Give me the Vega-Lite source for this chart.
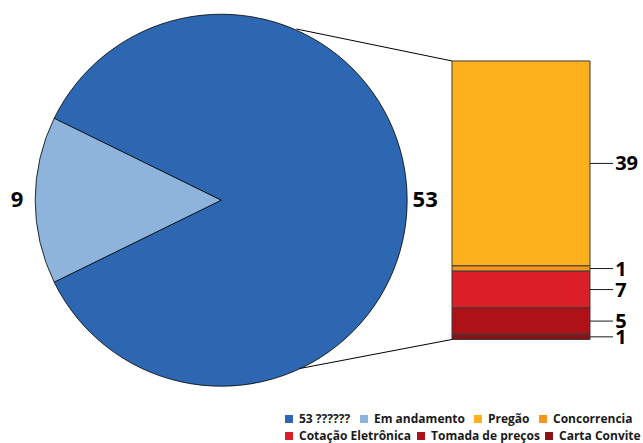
{
  "$schema": "https://vega.github.io/schema/vega-lite/v6.json",
  "width": 643,
  "height": 443,
  "padding": 0,
  "autosize": {"type": "none"},
  "background": "white",
  "config": {
    "view": {"stroke": null},
    "font": "Open Sans",
    "legend": {
      "orient": "none",
      "direction": "horizontal",
      "gridAlign": "none",
      "symbolType": "square",
      "symbolSize": 64,
      "symbolStrokeWidth": 0,
      "labelFont": "Open Sans",
      "labelFontSize": 12,
      "labelFontWeight": "bold",
      "labelColor": "#1a1a1a",
      "labelOffset": 4,
      "labelLimit": 200
    }
  },
  "datasets": {
    "pizza": [
      {"categoria": "53 ??????", "n": 53, "ordem": 1},
      {"categoria": "Em andamento", "n": 9, "ordem": 2}
    ],
    "barra": [
      {"categoria": "Pregão", "n": 39, "ordem": 5, "linha": 1},
      {"categoria": "Concorrencia", "n": 1, "ordem": 4, "linha": 1},
      {"categoria": "Cotação Eletrônica", "n": 7, "ordem": 3, "linha": 2},
      {"categoria": "Tomada de preços", "n": 5, "ordem": 2, "linha": 2},
      {"categoria": "Carta Convite", "n": 1, "ordem": 1, "linha": 2}
    ]
  },
  "layer": [
    {
      "data": {"name": "pizza"},
      "mark": {"type": "arc", "outerRadius": 186, "stroke": "#000000", "strokeWidth": 0.8},
      "encoding": {
        "x": {"datum": 42.1, "type": "quantitative", "scale": {"domain": [0, 122.4], "nice": false, "zero": false}, "axis": null},
        "y": {"datum": 26.5, "type": "quantitative", "scale": {"domain": [-19.7, 64.6], "nice": false, "zero": false}, "axis": null},
        "theta": {"field": "n", "type": "quantitative", "stack": true, "scale": {"range": [-1.11475, 5.16844]}},
        "order": {"field": "ordem", "type": "quantitative"},
        "fill": {
          "field": "categoria",
          "type": "nominal",
          "scale": {
            "domain": ["53 ??????", "Em andamento", "Pregão", "Concorrencia"],
            "range": ["#2e67b1", "#8fb4db", "#fdb11d", "#f7941e"]
          },
          "legend": {
            "title": null, "orient": "none", "direction": "horizontal", "legendX": 283, "legendY": 413, "columnPadding": 7,
            "encode": {"labels": {"update": {"fontWeight": {"signal": "datum.value === '53 ??????' ? 'normal' : 'bold'"}}}}
          }
        }
      }
    },
    {
      "data": {"name": "pizza"},
      "mark": {"type": "text", "radius": 204, "fontSize": 22, "fontWeight": "bold", "font": "Open Sans", "color": "#000000", "align": "center", "baseline": "middle"},
      "encoding": {
        "x": {"datum": 42.1, "type": "quantitative", "scale": {"domain": [0, 122.4], "nice": false, "zero": false}, "axis": null},
        "y": {"datum": 26.5, "type": "quantitative", "scale": {"domain": [-19.7, 64.6], "nice": false, "zero": false}, "axis": null},
        "theta": {"field": "n", "type": "quantitative", "stack": true},
        "order": {"field": "ordem", "type": "quantitative"},
        "text": {"field": "n", "type": "quantitative"}
      }
    },
    {
      "data": {"values": [{}]},
      "mark": {"type": "rule", "color": "#000000", "strokeWidth": 1},
      "encoding": {
        "x": {"datum": 56.44, "type": "quantitative", "scale": {"domain": [0, 122.4], "nice": false, "zero": false}, "axis": null},
        "y": {"datum": 59.08, "type": "quantitative", "scale": {"domain": [-19.7, 64.6], "nice": false, "zero": false}, "axis": null},
        "x2": {"datum": 86.04},
        "y2": {"datum": 53}
      }
    },
    {
      "data": {"values": [{}]},
      "mark": {"type": "rule", "color": "#000000", "strokeWidth": 1},
      "encoding": {
        "x": {"datum": 57.1, "type": "quantitative", "scale": {"domain": [0, 122.4], "nice": false, "zero": false}, "axis": null},
        "y": {"datum": -5.52, "type": "quantitative", "scale": {"domain": [-19.7, 64.6], "nice": false, "zero": false}, "axis": null},
        "x2": {"datum": 86.04},
        "y2": {"datum": 0}
      }
    },
    {
      "data": {"name": "barra"},
      "transform": [
        {"stack": "n", "groupby": [], "sort": [{"field": "ordem", "order": "ascending"}], "as": ["y0", "y1"]},
        {"filter": "datum.linha == 1"}
      ],
      "mark": {"type": "rect", "stroke": "#3b3b3b", "strokeWidth": 1},
      "encoding": {
        "x": {"datum": 86.04, "type": "quantitative", "scale": {"domain": [0, 122.4], "nice": false, "zero": false}, "axis": null},
        "x2": {"datum": 112.31},
        "y": {"field": "y0", "type": "quantitative", "scale": {"domain": [-19.7, 64.6], "nice": false, "zero": false}, "axis": null},
        "y2": {"field": "y1"},
        "fill": {
          "field": "categoria", "type": "nominal",
          "legend": {
            "title": null, "orient": "none", "direction": "horizontal", "legendX": 283, "legendY": 413, "columnPadding": 7,
            "encode": {"labels": {"update": {"fontWeight": {"signal": "datum.value === '53 ??????' ? 'normal' : 'bold'"}}}}
          }
        }
      }
    },
    {
      "data": {"name": "barra"},
      "transform": [
        {"stack": "n", "groupby": [], "sort": [{"field": "ordem", "order": "ascending"}], "as": ["y0", "y1"]},
        {"filter": "datum.linha == 2"}
      ],
      "mark": {"type": "rect", "stroke": "#3b3b3b", "strokeWidth": 1},
      "encoding": {
        "x": {"datum": 86.04, "type": "quantitative", "scale": {"domain": [0, 122.4], "nice": false, "zero": false}, "axis": null},
        "x2": {"datum": 112.31},
        "y": {"field": "y0", "type": "quantitative", "scale": {"domain": [-19.7, 64.6], "nice": false, "zero": false}, "axis": null},
        "y2": {"field": "y1"},
        "color": {
          "field": "categoria",
          "type": "nominal",
          "scale": {
            "domain": ["Cotação Eletrônica", "Tomada de preços", "Carta Convite"],
            "range": ["#da1f26", "#ae1118", "#8a1217"]
          },
          "legend": {"title": null, "orient": "none", "direction": "horizontal", "legendX": 283, "legendY": 430, "columnPadding": 3}
        }
      }
    },
    {
      "data": {"name": "barra"},
      "transform": [
        {"stack": "n", "groupby": [], "sort": [{"field": "ordem", "order": "ascending"}], "as": ["y0", "y1"]},
        {"calculate": "(datum.y0 + datum.y1) / 2", "as": "meio"}
      ],
      "mark": {"type": "rule", "color": "#1a1a1a", "strokeWidth": 1},
      "encoding": {
        "x": {"datum": 112.31, "type": "quantitative", "scale": {"domain": [0, 122.4], "nice": false, "zero": false}, "axis": null},
        "x2": {"datum": 116.7},
        "y": {"field": "meio", "type": "quantitative", "scale": {"domain": [-19.7, 64.6], "nice": false, "zero": false}, "axis": null}
      }
    },
    {
      "data": {"name": "barra"},
      "transform": [
        {"stack": "n", "groupby": [], "sort": [{"field": "ordem", "order": "ascending"}], "as": ["y0", "y1"]},
        {"calculate": "(datum.y0 + datum.y1) / 2", "as": "meio"}
      ],
      "mark": {"type": "text", "align": "left", "baseline": "middle", "fontSize": 20, "fontWeight": "bold", "font": "Open Sans", "color": "#000000", "dy": 1},
      "encoding": {
        "x": {"datum": 117.1, "type": "quantitative", "scale": {"domain": [0, 122.4], "nice": false, "zero": false}, "axis": null},
        "y": {"field": "meio", "type": "quantitative", "scale": {"domain": [-19.7, 64.6], "nice": false, "zero": false}, "axis": null},
        "text": {"field": "n", "type": "quantitative"}
      }
    }
  ]
}
